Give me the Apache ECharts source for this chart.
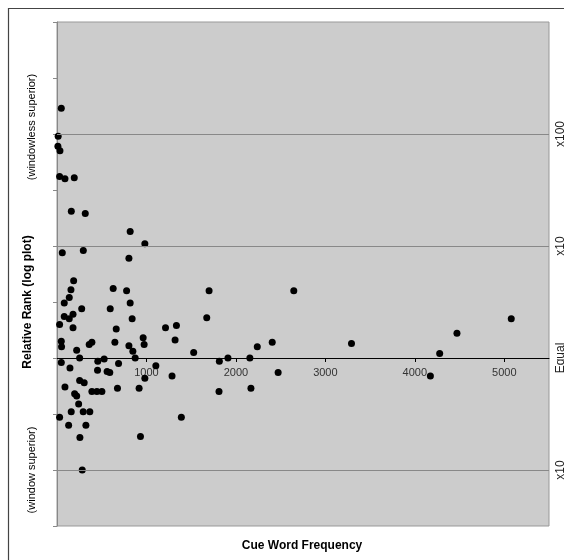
<!DOCTYPE html>
<html lang="en">
  <head>
    <meta charset="UTF-8" />
    <title>Cue Word Frequency</title>
    <script src="https://cdn.jsdelivr.net/npm/echarts@6.0.0/dist/echarts.min.js"></script>
    <style>
      html, body { margin: 0; padding: 0; background: #fff; }
    </style>
  </head>
  <body>
    <div id="main" style="width: 564px; height: 560px"></div>
    <script type="text/javascript">
      // cue word frequency (x) and log10 of relative rank (y)
      const cueFreq = [
        48, 13, 10, 33, 29, 89, 193, 160, 316, 818, 982, 59, 294, 804, 186, 156,
        628, 778, 137, 81, 818, 276, 595, 81, 137, 179, 840, 29, 179, 662, 1213,
        48, 963, 51, 647, 360, 390, 220, 804, 848, 974, 48, 253, 456, 527, 874,
        145, 453, 560, 590, 688, 1105, 253, 304, 982, 89, 676, 918, 197, 220,
        390, 446, 502, 242, 29, 159, 293, 367, 130, 323, 256, 933, 282, 1286,
        1335, 1320, 1528, 1390, 1700, 2647, 1674, 1815, 1911, 2156, 2239, 2406,
        2472, 1811, 2168, 3292, 4278, 4174, 4471, 5078
      ];
      const rankLog = [
        2.23, 1.98, 1.89, 1.85, 1.62, 1.6, 1.61, 1.31, 1.29, 1.13, 1.02, 0.94,
        0.96, 0.89, 0.69, 0.61, 0.62, 0.6, 0.54, 0.49, 0.49, 0.44, 0.44, 0.37,
        0.35, 0.39, 0.35, 0.3, 0.27, 0.26, 0.27, 0.15, 0.18, 0.1, 0.14, 0.12,
        0.14, 0.07, 0.11, 0.06, 0.12, -0.04, 0, -0.03, -0.01, 0, -0.09, -0.11,
        -0.12, -0.13, -0.05, -0.07, -0.2, -0.22, -0.18, -0.26, -0.27, -0.27,
        -0.32, -0.34, -0.3, -0.3, -0.3, -0.41, -0.53, -0.48, -0.48, -0.48,
        -0.6, -0.6, -0.71, -0.7, -1.0, -0.16, 0.29, 0.16, 0.05, -0.53, 0.6,
        0.6, 0.36, -0.03, 0, 0, 0.1, 0.14, -0.13, -0.3, -0.27, 0.13, 0.04,
        -0.16, 0.22, 0.35
      ];
      const xTicks = [1000, 2000, 3000, 4000, 5000];
      const yTicks = [-1.5, -1, -0.5, 0, 0.5, 1, 1.5, 2, 2.5, 3];
      const yLabelValues = [-1, 0, 1, 2];
      const yLabelTexts = ["x10", "Equal", "x10", "x100"];
      const gridLines = [-1, 1, 2];

      const font = "Liberation Sans, Arial, sans-serif";
      const points = cueFreq.map((f, i) => [f, rankLog[i]]);

      let myChart = echarts.init(document.getElementById("main"));

      let options = {
        animation: false,
        backgroundColor: "#fff",
        textStyle: { fontFamily: font },
        grid: {
          left: 57,
          right: 15,
          top: 22,
          bottom: 34,
          outerBoundsMode: "none",
          show: true,
          backgroundColor: "#cccccc",
          borderColor: "#999",
          borderWidth: 1,
        },
        xAxis: {
          type: "value",
          min: 0,
          max: 5500,
          interval: 1000,
          position: "bottom",
          // lift the axis up to the "Equal" line (y = 0), 1.5 decades above the bottom
          offset: -168,
          axisLine: { onZero: false, lineStyle: { color: "#000", width: 1 } },
          axisTick: { customValues: xTicks, length: 4, lineStyle: { color: "#000" } },
          axisLabel: {
            customValues: xTicks,
            color: "#333",
            fontSize: 11,
            margin: 9,
            formatter: (v) => String(v),
          },
          splitLine: { show: false },
        },
        yAxis: [
          {
            type: "value",
            min: -1.5,
            max: 3,
            interval: 0.5,
            position: "left",
            axisLine: { show: true, lineStyle: { color: "#888" } },
            axisTick: { show: true, customValues: yTicks, length: 4, lineStyle: { color: "#888" } },
            axisLabel: { show: false },
            splitLine: { show: false },
          },
          {
            type: "value",
            min: -1.5,
            max: 3,
            interval: 0.5,
            position: "right",
            axisLine: { show: false },
            axisTick: { show: false },
            splitLine: { show: false },
            axisLabel: {
              customValues: yLabelValues,
              rotate: 90,
              margin: 6,
              color: "#222",
              fontSize: 12,
              formatter: (v) => yLabelTexts[yLabelValues.indexOf(v)],
            },
          },
        ],
        graphic: [
          {
            type: "rect",
            z: -10,
            shape: { x: 8.5, y: 8.5, width: 620, height: 620 },
            style: { fill: "none", stroke: "#444", lineWidth: 1.2 },
          },
          {
            type: "text",
            x: 28,
            y: 302,
            rotation: Math.PI / 2,
            style: {
              text: "Relative Rank (log plot)",
              font: "bold 12px " + font,
              fill: "#000",
              align: "center",
              verticalAlign: "middle",
            },
          },
          {
            type: "text",
            x: 32,
            y: 127,
            rotation: Math.PI / 2,
            style: {
              text: "(windowless superior)",
              font: "11px " + font,
              fill: "#000",
              align: "center",
              verticalAlign: "middle",
            },
          },
          {
            type: "text",
            x: 32,
            y: 470,
            rotation: Math.PI / 2,
            style: {
              text: "(window superior)",
              font: "11px " + font,
              fill: "#000",
              align: "center",
              verticalAlign: "middle",
            },
          },
          {
            type: "text",
            x: 302,
            y: 546,
            style: {
              text: "Cue Word Frequency",
              font: "bold 12px " + font,
              fill: "#000",
              align: "center",
              verticalAlign: "middle",
            },
          },
        ],
        series: [
          {
            type: "scatter",
            xAxisIndex: 0,
            yAxisIndex: 0,
            data: points,
            symbolSize: 7,
            itemStyle: { color: "#000", opacity: 1 },
            markLine: {
              silent: true,
              symbol: "none",
              label: { show: false },
              lineStyle: { color: "#888", type: "solid", width: 1 },
              data: gridLines.map((v) => ({ yAxis: v })),
            },
          },
        ],
      };

      myChart.setOption(options);
    </script>
  </body>
</html>
